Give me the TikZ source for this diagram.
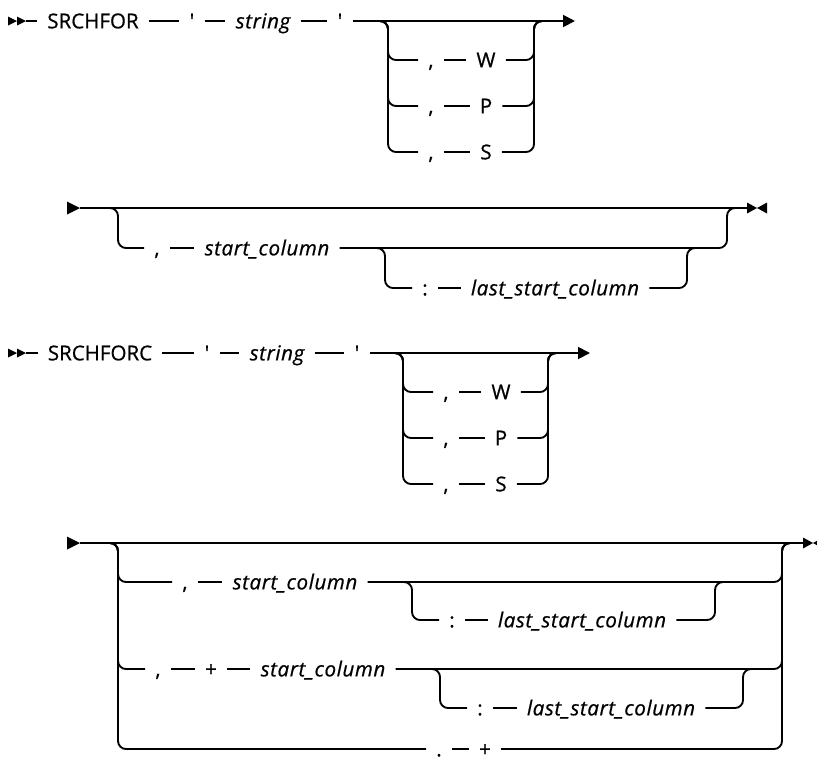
\documentclass[tikz,border=0pt]{standalone}
\usepackage{fontspec}
\setmainfont{Open Sans}[FakeBold=0.7, ItalicFeatures={LetterSpace=3}]
\usetikzlibrary{arrows.meta}
\tikzset{
  rail/.style     = {line width=1.4pt, rounded corners=6pt},
  tok/.style      = {inner xsep=7.5pt, inner ysep=0pt, text height=11pt,
                     text depth=0pt, font=\fontsize{15.4pt}{18pt}\selectfont},
  var/.style      = {tok, font=\fontsize{15.4pt}{18pt}\selectfont\itshape},
  endarrow/.style = {-{Triangle[length=9pt, width=9pt]}},
}

\begin{document}
\begin{tikzpicture}[x=0.75pt, y=-0.75pt]
\useasboundingbox (0,0) rectangle (817,758);

% ---- SRCHFOR, first line
\node[tok] (kwA) at (93,21) {SRCHFOR};
\node[tok] (qa1) at (192,21) {\textquotesingle};
\node[var] (strA) at (263,21) {string};
\node[tok] (qa2) at (340,21) {\textquotesingle};
\fill (8,16.5) -- (17,21) -- (8,25.5) -- cycle;
\fill (17,16.5) -- (26,21) -- (17,25.5) -- cycle;
\draw[rail] (26,21) -- (kwA.west);
\draw[rail] (kwA.east) -- (qa1.west);
\draw[rail] (qa1.east) -- (strA.west);
\draw[rail] (strA.east) -- (qa2.west);
\draw[rail, endarrow] (qa2.east) -- (575,21);
\foreach \dy/\opt [count=\i] in {39/W, 85/P, 131/S} {
  \node[tok] (ca\i) at (431,21+\dy) {,};
  \node[tok] (oa\i) at (486,21+\dy) {\opt};
  \draw[rail] (376,21) -- (388,21) -- (388,21+\dy) -- (ca\i.west);
  \draw[rail] (ca\i.east) -- (oa\i.west);
  \draw[rail] (oa\i.east) -- (534,21+\dy) -- (534,21) -- (546,21);
}

% ---- SRCHFOR, second line
\fill (67,201.5) -- (80,208) -- (67,214.5) -- cycle;
\draw[rail] (80,208) -- (747,208);
\fill (747,202.5) -- (757,208) -- (747,213.5) -- cycle;
\fill (767,202.5) -- (757,208) -- (767,213.5) -- cycle;
\node[tok] (cb) at (157,248) {,};
\node[var] (scb) at (267,248) {start\_column};
\draw[rail] (106,208) -- (118,208) -- (118,248) -- (cb.west);
\draw[rail] (cb.east) -- (scb.west);
\draw[rail] (scb.east) -- (727,248) -- (727,208) -- (739,208);
\node[tok] (kb) at (425,288) {:};
\node[var] (lscb) at (555,288) {last\_start\_column};
\draw[rail] (373,248) -- (385,248) -- (385,288) -- (kb.west);
\draw[rail] (kb.east) -- (lscb.west);
\draw[rail] (lscb.east) -- (687,288) -- (687,248) -- (699,248);

% ---- SRCHFORC, first line
\node[tok] (kwC) at (100,353) {SRCHFORC};
\node[tok] (qc1) at (207,353) {\textquotesingle};
\node[var] (strC) at (277,353) {string};
\node[tok] (qc2) at (357,353) {\textquotesingle};
\fill (8,348.5) -- (17,353) -- (8,357.5) -- cycle;
\fill (17,348.5) -- (26,353) -- (17,357.5) -- cycle;
\draw[rail] (26,353) -- (kwC.west);
\draw[rail] (kwC.east) -- (qc1.west);
\draw[rail] (qc1.east) -- (strC.west);
\draw[rail] (strC.east) -- (qc2.west);
\draw[rail, endarrow] (qc2.east) -- (590,353);
\foreach \dy/\opt [count=\i] in {39/W, 85/P, 131/S} {
  \node[tok] (cc\i) at (446,353+\dy) {,};
  \node[tok] (oc\i) at (501,353+\dy) {\opt};
  \draw[rail] (391,353) -- (403,353) -- (403,353+\dy) -- (cc\i.west);
  \draw[rail] (cc\i.east) -- (oc\i.west);
  \draw[rail] (oc\i.east) -- (548,353+\dy) -- (548,353) -- (560,353);
}

% ---- SRCHFORC, second line
\fill (67,536.5) -- (80,543) -- (67,549.5) -- cycle;
\draw[rail] (80,543) -- (803,543);
\fill (803,537.5) -- (813,543) -- (803,548.5) -- cycle;
\fill (823,537.5) -- (813,543) -- (823,548.5) -- cycle;
% plain start column
\node[tok] (cd1) at (185,582) {,};
\node[var] (scd1) at (295,582) {start\_column};
\draw[rail] (106,543) -- (118,543) -- (118,582) -- (cd1.west);
\draw[rail] (cd1.east) -- (scd1.west);
\draw[rail] (scd1.east) -- (782,582) -- (782,543) -- (794,543);
\node[tok] (kd1) at (452,620) {:};
\node[var] (lscd1) at (582,620) {last\_start\_column};
\draw[rail] (400,582) -- (412,582) -- (412,620) -- (kd1.west);
\draw[rail] (kd1.east) -- (lscd1.west);
\draw[rail] (lscd1.east) -- (715,620) -- (715,582) -- (727,582);
% relative start column
\node[tok] (cd2) at (158,669) {,};
\node[tok] (pd2) at (211,669) {+};
\node[var] (scd2) at (323,669) {start\_column};
\draw[rail] (106,543) -- (118,543) -- (118,669) -- (cd2.west);
\draw[rail] (cd2.east) -- (pd2.west);
\draw[rail] (pd2.east) -- (scd2.west);
\draw[rail] (scd2.east) -- (782,669) -- (782,543) -- (794,543);
\node[tok] (kd2) at (480,708) {:};
\node[var] (lscd2) at (611,708) {last\_start\_column};
\draw[rail] (428,669) -- (440,669) -- (440,708) -- (kd2.west);
\draw[rail] (kd2.east) -- (lscd2.west);
\draw[rail] (lscd2.east) -- (743,708) -- (743,669) -- (755,669);
% current column
\node[tok] (dd3) at (439,749) {.};
\node[tok] (pd3) at (485,749) {+};
\draw[rail] (106,543) -- (118,543) -- (118,749) -- (dd3.west);
\draw[rail] (dd3.east) -- (pd3.west);
\draw[rail] (pd3.east) -- (782,749) -- (782,543) -- (794,543);
\end{tikzpicture}
\end{document}
